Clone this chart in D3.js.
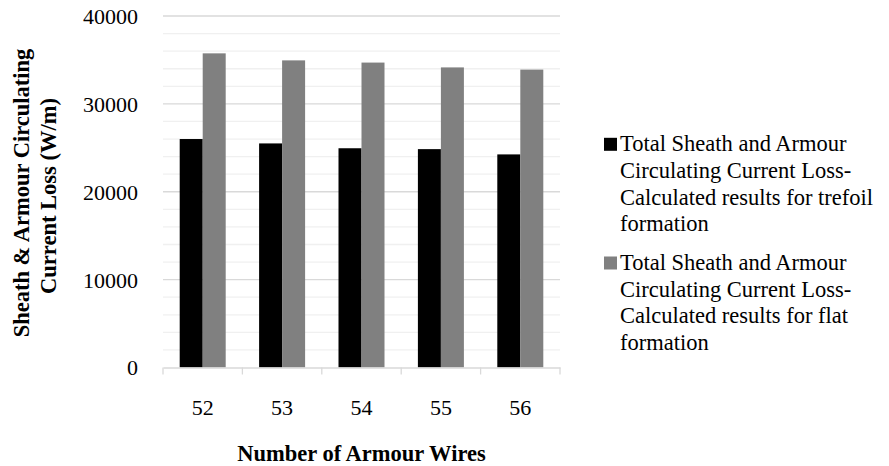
<!DOCTYPE html>
<html><head><meta charset="utf-8">
<script src="https://cdn.jsdelivr.net/npm/d3@7"></script>
<style>
html,body{margin:0;padding:0;background:#fff;}
svg{display:block;}
</style></head>
<body>
<svg id="chart" width="889" height="466"></svg>
<script>
const categories = ["52","53","54","55","56"];
const seriesNames = [
  "Total Sheath and Armour Circulating Current Loss-Calculated results for trefoil formation",
  "Total Sheath and Armour Circulating Current Loss-Calculated results for flat formation"
];
const trefoilValues = [26000, 25500, 24950, 24850, 24250];
const flatValues = [35750, 34950, 34700, 34150, 33900];
const yTicks = [0, 10000, 20000, 30000, 40000];
const legendLines = [
  ["Total Sheath and Armour", "Circulating Current Loss-", "Calculated results for trefoil", "formation"],
  ["Total Sheath and Armour", "Circulating Current Loss-", "Calculated results for flat", "formation"]
];
const colors = ["#000000", "#808080"];

const FONT = "'Liberation Serif', 'Times New Roman', Tinos, serif";
const svg = d3.select("#chart");
const plotLeft = 163, plotRight = 560, plotTop = 16, plotBottom = 367.5;

const x = d3.scaleBand().domain(categories).range([plotLeft, plotRight]).padding(0);
const barW = 23;
const x1 = d3.scaleBand().domain([0,1]).range([x.bandwidth()/2 - barW, x.bandwidth()/2 + barW]).padding(0);
const y = d3.scaleLinear().domain([0, 40000]).range([plotBottom, plotTop]);

// minor gridlines
const minor = d3.range(2000, 40001, 2000).filter(v => v % 10000 !== 0);
svg.append("g").selectAll("line").data(minor).join("line")
  .attr("x1", plotLeft).attr("x2", plotRight)
  .attr("y1", d => y(d)).attr("y2", d => y(d))
  .attr("stroke", "#f0f0f0").attr("stroke-width", 1.3);
// major gridlines
svg.append("g").selectAll("line").data(yTicks.filter(v => v > 0)).join("line")
  .attr("x1", plotLeft).attr("x2", plotRight)
  .attr("y1", d => y(d)).attr("y2", d => y(d))
  .attr("stroke", "#d9d9d9").attr("stroke-width", 1.3);

// bars
const data = categories.map((c, i) => ({c, vals: [trefoilValues[i], flatValues[i]]}));
const g = svg.append("g").selectAll("g").data(data).join("g")
  .attr("transform", d => `translate(${x(d.c)},0)`);
g.selectAll("rect").data(d => d.vals.map((v, k) => ({v, k}))).join("rect")
  .attr("x", d => x1(d.k)).attr("width", x1.bandwidth())
  .attr("y", d => y(d.v)).attr("height", d => y(0) - y(d.v))
  .attr("fill", d => colors[d.k]);

// x axis
const xAxis = d3.axisBottom(x).tickSize(0).tickFormat("");
const xa = svg.append("g").attr("transform", `translate(0,${plotBottom})`).call(xAxis);
xa.select(".domain").attr("stroke", "#d9d9d9").attr("stroke-width", 1.3);
// category boundary ticks
const bounds = categories.map(c => x(c)).concat([plotRight]);
svg.append("g").selectAll("line").data(bounds).join("line")
  .attr("x1", d => d).attr("x2", d => d)
  .attr("y1", plotBottom).attr("y2", plotBottom + 7)
  .attr("stroke", "#d9d9d9").attr("stroke-width", 1.3);
svg.append("g").selectAll("text").data(categories).join("text")
  .attr("x", d => x(d) + x.bandwidth()/2).attr("y", 415)
  .attr("text-anchor", "middle").style("font-family", FONT).style("font-size", "22px").text(d => d);

// y tick labels
svg.append("g").selectAll("text").data(yTicks).join("text")
  .attr("x", 138).attr("y", d => y(d)).attr("dy", "0.36em")
  .attr("text-anchor", "end").style("font-family", FONT).style("font-size", "22px").text(d => d);

// axis titles
svg.append("text").attr("x", 361.5).attr("y", 461).attr("text-anchor", "middle")
  .style("font-family", FONT).style("font-size", "22.5px").style("font-weight", "bold").text("Number of Armour Wires");
svg.append("text").attr("transform", "translate(28.5,193) rotate(-90)").attr("text-anchor", "middle")
  .style("font-family", FONT).style("font-size", "22.5px").style("font-weight", "bold").text("Sheath & Armour Circulating");
svg.append("text").attr("transform", "translate(55.5,196) rotate(-90)").attr("text-anchor", "middle")
  .style("font-family", FONT).style("font-size", "22.5px").style("font-weight", "bold").text("Current Loss (W/m)");

// legend
const legendBase = [151.3, 270];
const lg = svg.append("g").selectAll("g").data(seriesNames).join("g");
lg.append("rect").attr("x", 604).attr("y", (d, i) => legendBase[i] - 13.5)
  .attr("width", 13).attr("height", 13).attr("fill", (d, i) => colors[i]);
lg.each(function(d, i) {
  d3.select(this).selectAll("text").data(legendLines[i]).join("text")
    .attr("x", 620).attr("y", (t, j) => legendBase[i] + j * 26.7)
    .style("font-family", FONT).style("font-size", "22.5px").text(t => t);
});
</script>
</body></html>
